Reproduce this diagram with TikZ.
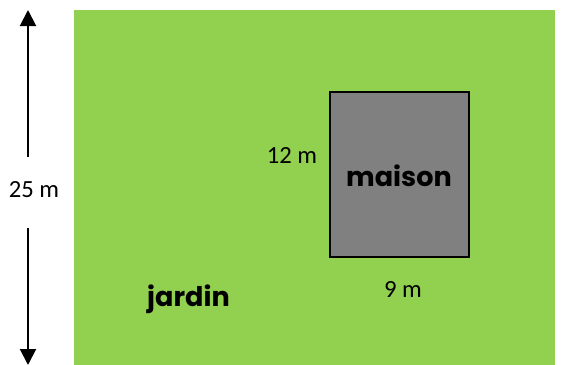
\documentclass[tikz,border=0pt]{standalone}
\usepackage{fontspec}
\setmainfont{Carlito}
\newfontfamily\kidfont{Poppins}
\usetikzlibrary{arrows.meta}
\definecolor{gazon}{HTML}{92D050}
\definecolor{gris}{HTML}{808080}

\begin{document}
\begin{tikzpicture}[x=0.75pt,y=-0.75pt]
  \tikzset{cote/.style={font=\fontsize{18.5}{20}\selectfont,anchor=base},
           etiq/.style={font=\kidfont\bfseries\fontsize{20.3}{24}\selectfont,anchor=base},
           fleche/.style={line width=1.5pt,-{Triangle[length=12pt,width=12pt]}}}
  \useasboundingbox (0,0) rectangle (562,365);
  \fill[gazon] (74,10) rectangle (555,365);
  \node (maison) at (399.5,174.5) [draw=black,line width=1.5pt,fill=gris,minimum width=104.25pt,minimum height=123.75pt,inner sep=0pt] {};
  \node (nommaison) at (399,186) [etiq] {maison};
  \node (jardin) at (188.5,306) [etiq] {jardin};
  \node (larg) at (292,163) [cote] {12 m};
  \node (long) at (403,297) [cote] {9 m};
  \node (total) at (34,197) [cote] {25 m};
  \coordinate (haut) at (28,10);
  \coordinate (bas) at (28,365);
  \coordinate (hautdeb) at (28,157);
  \coordinate (basdeb) at (28,228);
  \draw[fleche] (hautdeb) -- (haut);
  \draw[fleche] (basdeb) -- (bas);
\end{tikzpicture}
\end{document}
